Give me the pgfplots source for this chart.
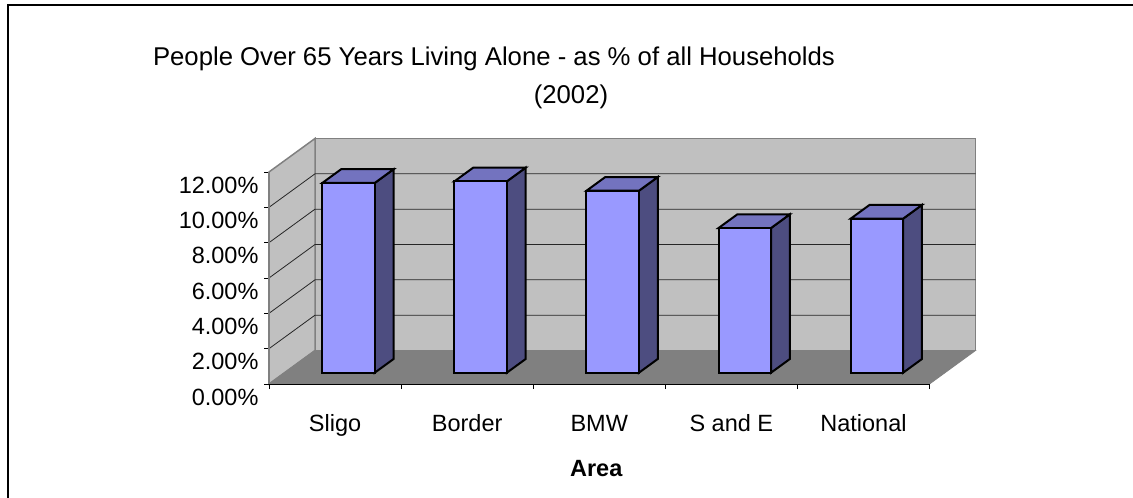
\documentclass[border=0pt]{standalone}
\usepackage{pgfplots}
\pgfplotsset{compat=1.18}
\usepackage{fontspec}
\setmainfont{Liberation Sans}
\definecolor{wallc}{HTML}{C0C0C0}
\definecolor{floorc}{HTML}{808080}
\definecolor{frontc}{HTML}{9999FF}
\definecolor{topc}{HTML}{7373BF}
\definecolor{sidec}{HTML}{4D4D80}
\newcommand{\threedbar}[3]{%
  \addplot3[draw=black,line width=2pt,line join=miter,fill=sidec] coordinates {(#2,0.337,0)(#2,0.747,0)(#2,0.747,#3)(#2,0.337,#3)} --cycle;
  \addplot3[draw=black,line width=2pt,line join=miter,fill=topc] coordinates {(#1,0.337,#3)(#2,0.337,#3)(#2,0.747,#3)(#1,0.747,#3)} --cycle;
  \addplot3[draw=black,line width=2pt,line join=miter,fill=frontc] coordinates {(#1,0.337,0)(#2,0.337,0)(#2,0.337,#3)(#1,0.337,#3)} --cycle;
}
\newcommand{\grid}[1]{%
  \addplot3[draw=black!85,line width=0.8pt] coordinates {(0,0,#1)(0,1,#1)(5,1,#1)};
}
\begin{document}
\begin{tikzpicture}[x=1pt,y=1pt]
\path[use as bounding box,fill=white] (0,0) rectangle (1133,498);
\draw[black,line width=2.4pt] (8,-2) -- (8,493) -- (1135,493);
\begin{axis}[
  at={(269pt,114pt)},anchor=origin,
  x={(132.1pt,0pt)},y={(46pt,33.5pt)},z={(0pt,17.667pt)},
  xmin=0,xmax=5,ymin=0,ymax=1,zmin=0,zmax=12,
  hide axis,clip=false]
\addplot3[draw=floorc,line width=1.5pt,fill=wallc] coordinates {(0,1,0)(5,1,0)(5,1,12)(0,1,12)} --cycle;
\addplot3[draw=floorc,line width=1.5pt,fill=wallc] coordinates {(0,0,0)(0,1,0)(0,1,12)(0,0,12)} --cycle;
\addplot3[draw=floorc,line width=0.8pt,fill=floorc] coordinates {(0,0,0)(5,0,0)(5,1,0)(0,1,0)} --cycle;
\grid{2}\grid{4}\grid{6}\grid{8}\grid{10}
\threedbar{0.286}{0.683}{10.74}
\threedbar{1.286}{1.683}{10.83}
\threedbar{2.286}{2.683}{10.30}
\threedbar{3.286}{3.683}{8.19}
\threedbar{4.286}{4.683}{8.72}
\end{axis}
\begin{axis}[
  at={(269pt,114pt)},anchor=south west,scale only axis,
  width=660.5pt,height=212pt,
  xmin=0,xmax=5,ymin=0,ymax=12,
  axis x line*=bottom,axis y line*=left,
  axis line style={-},
  x axis line style={black,line width=1pt},
  y axis line style={floorc,line width=1.5pt},
  tick style={black,line width=0.8pt},
  tick align=outside,
  major tick length=5pt,
  ytick={0,2,4,6,8,10,12},
  yticklabels={0.00\%,2.00\%,4.00\%,6.00\%,8.00\%,10.00\%,12.00\%},
  yticklabel style={yshift=-13pt,xshift=-2pt},
  xtick={0.5,1.5,2.5,3.5,4.5},
  xticklabels={Sligo,Border,BMW,S and E,National},
  major x tick style={draw=none},
  minor x tick style={black,line width=0.8pt},
  minor xtick={0,1,2,3,4,5},
  minor tick length=5pt,
  xticklabel style={yshift=-22pt,text height=17pt,text depth=5pt},
  xlabel={\fontsize{23.5}{28}\selectfont\bfseries Area},
  xlabel style={yshift=-16.5pt,xshift=-3pt},
  tick label style={font=\fontsize{23.5}{28}\selectfont,/pgf/number format/assume math mode=true},
  clip=false]
\addplot[draw=none,forget plot] coordinates {(0,0)(5,12)};
\end{axis}
\node[anchor=base,font=\fontsize{25.7}{30}\selectfont] at (494,432) {People Over 65 Years Living Alone - as \% of all Households};
\node[anchor=base,font=\fontsize{25.7}{30}\selectfont] at (571,394.5) {(2002)};
\end{tikzpicture}
\end{document}
